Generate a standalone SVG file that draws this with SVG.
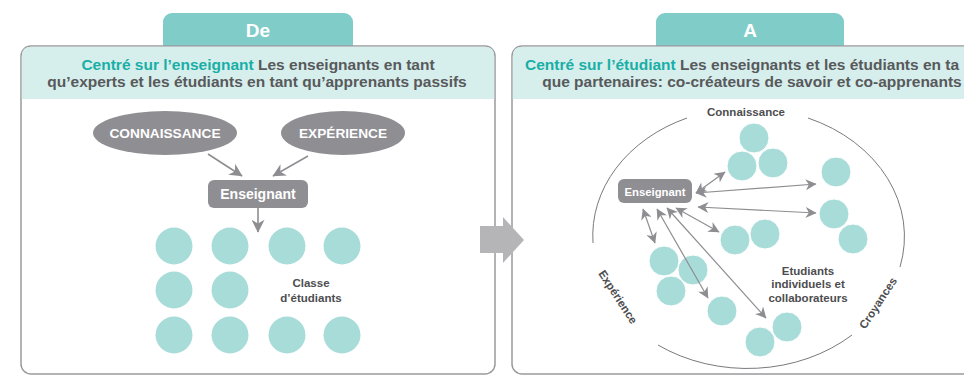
<svg xmlns="http://www.w3.org/2000/svg" width="964" height="375" viewBox="0 0 964 375">
<style>
text{font-family:"Liberation Sans",Arial,sans-serif;font-weight:bold}
.tab{fill:#80CCC8}
.tabt{fill:#fff;font-size:19px;text-anchor:middle}
.panel{fill:#fff;stroke:#9B9B9E;stroke-width:1.5}
.band{fill:#D6EEEC}
.hd{font-size:15.5px;fill:#58595B;text-anchor:middle}
.hl{fill:#19AFA6}
.oval{fill:#8F8E93}
.box{fill:#8F8E93}
.wt{fill:#fff;text-anchor:middle}
.lbl{fill:#4D4D4F;text-anchor:middle;font-size:11.5px}
.stu{fill:#A8DCD9}
.stu2{fill:#A8DCD9;stroke:#fff;stroke-width:1}
.conn{fill:none;stroke:#8E8E92;stroke-width:1.2}
.conn2{fill:none;stroke:#8E8E92;stroke-width:1.6}
.arc{fill:none;stroke:#7A7A7D;stroke-width:1}
</style>
<defs>
<marker id="ah" viewBox="0 0 10 10" refX="9.5" refY="5" markerUnits="userSpaceOnUse" markerWidth="12" markerHeight="11" orient="auto-start-reverse">
<path d="M0,0 L10,5 L0,10 L3,5 Z" fill="#8E8E92"/>
</marker>
<marker id="ahL" viewBox="0 0 10 10" refX="9.5" refY="5" markerUnits="userSpaceOnUse" markerWidth="14" markerHeight="13" orient="auto">
<path d="M0,0 L10,5 L0,10 L3,5 Z" fill="#8E8E92"/>
</marker>
</defs>

<!-- Left panel -->
<g id="tab-de">
<rect class="tab" x="163" y="13" width="190" height="44" rx="9"/>
<text class="tabt" x="258" y="37">De</text>
</g>
<g id="panel-de">
<rect class="panel" x="21" y="46" width="474" height="328" rx="10"/>
<path class="band" d="M21.8,99 V56 Q21.8,46.8 31,46.8 H485 Q494.2,46.8 494.2,56 V99 Z"/>
<text class="hd" x="258" y="70"><tspan class="hl">Centré sur l’enseignant</tspan> Les enseignants en tant</text>
<text class="hd" x="257" y="87">qu’experts et les étudiants en tant qu’apprenants passifs</text>
</g>

<!-- Right panel -->
<g id="tab-a">
<rect class="tab" x="656" y="13" width="188" height="44" rx="9"/>
<text class="tabt" x="750" y="37">A</text>
</g>
<g id="panel-a">
<rect class="panel" x="512" y="46" width="480" height="328" rx="10"/>
<path class="band" d="M512.8,99 V56 Q512.8,46.8 522,46.8 H990 V99 Z"/>
<text class="hd" x="525" y="70" text-anchor="start" style="text-anchor:start"><tspan class="hl">Centré sur l’étudiant</tspan> Les enseignants et les étudiants en ta</text>
<text class="hd" x="752" y="87">que partenaires: co-créateurs de savoir et co-apprenants</text>
</g>

<!-- Left diagram nodes -->
<g id="connaissance-left">
<ellipse class="oval" cx="165" cy="133" rx="72" ry="22"/>
<text class="wt" x="165" y="138" font-size="13.7">CONNAISSANCE</text>
</g>
<g id="experience-left">
<ellipse class="oval" cx="343" cy="133" rx="62" ry="22"/>
<text class="wt" x="343" y="138" font-size="13.7">EXPÉRIENCE</text>
</g>
<g id="enseignant-left">
<rect class="box" x="208" y="180" width="100" height="28" rx="6"/>
<text class="wt" x="258" y="199" font-size="14">Enseignant</text>
</g>
<g id="classe">
<circle class="stu" cx="174" cy="246" r="18.5"/>
<circle class="stu" cx="230" cy="246" r="18.5"/>
<circle class="stu" cx="287" cy="246" r="18.5"/>
<circle class="stu" cx="342" cy="246" r="18.5"/>
<circle class="stu" cx="174" cy="290" r="18.5"/>
<circle class="stu" cx="230" cy="290" r="18.5"/>
<circle class="stu" cx="174" cy="335" r="18.5"/>
<circle class="stu" cx="230" cy="335" r="18.5"/>
<circle class="stu" cx="287" cy="335" r="18.5"/>
<circle class="stu" cx="342" cy="335" r="18.5"/>
<text class="lbl" x="311" y="287">Classe</text>
<text class="lbl" x="311" y="302">d’étudiants</text>
</g>

<!-- Transition arrow -->
<g id="transition">
<polygon points="480,226 503,226 503,217 524,240 503,263 503,253 480,253" fill="#B5B5B8"/>
</g>

<!-- Right diagram -->
<g id="cercle">
<path class="arc" d="M687,118 A155,128 0 0 0 593,243"/>
<path class="arc" d="M658,345 A155,128 0 0 0 852,335"/>
<path class="arc" d="M900,267 A155,128 0 0 0 808,118"/>
<text class="lbl" x="746" y="116" font-size="11.5">Connaissance</text>
<text class="lbl" transform="translate(618,297) rotate(57)" x="0" y="4">Expérience</text>
<text class="lbl" transform="translate(878,303) rotate(-57)" x="0" y="4">Croyances</text>
</g>
<g id="enseignant-right">
<rect class="box" x="618" y="179" width="74" height="24" rx="6"/>
<text class="wt" x="655" y="196" font-size="11.3">Enseignant</text>
</g>
<g id="etudiants">
<circle class="stu2" cx="754" cy="138" r="15"/>
<circle class="stu2" cx="742" cy="166" r="15"/>
<circle class="stu2" cx="773" cy="163" r="15"/>
<circle class="stu2" cx="836" cy="172" r="15"/>
<circle class="stu2" cx="834" cy="214" r="15"/>
<circle class="stu2" cx="853" cy="239" r="15"/>
<circle class="stu2" cx="735" cy="240" r="15"/>
<circle class="stu2" cx="765" cy="234" r="15"/>
<circle class="stu2" cx="664" cy="261" r="15"/>
<circle class="stu2" cx="693" cy="270" r="15"/>
<circle class="stu2" cx="671" cy="291" r="15"/>
<circle class="stu2" cx="722" cy="311" r="15"/>
<circle class="stu2" cx="787" cy="327" r="15"/>
<circle class="stu2" cx="760" cy="342" r="15"/>
<text class="lbl" x="808" y="275">Etudiants</text>
<text class="lbl" x="808" y="288">individuels et</text>
<text class="lbl" x="808" y="302">collaborateurs</text>
</g>

<!-- Connectors -->
<g id="connectors">
<line class="conn2" x1="208" y1="154" x2="242" y2="176" marker-end="url(#ahL)"/>
<line class="conn2" x1="308" y1="156" x2="273" y2="176" marker-end="url(#ahL)"/>
<line class="conn2" x1="258" y1="208" x2="258" y2="232" marker-end="url(#ahL)"/>
<line class="conn" x1="696" y1="193" x2="725" y2="172" marker-start="url(#ah)" marker-end="url(#ah)"/>
<line class="conn" x1="696" y1="193" x2="816" y2="184" marker-start="url(#ah)" marker-end="url(#ah)"/>
<line class="conn" x1="698" y1="207" x2="816" y2="213" marker-start="url(#ah)" marker-end="url(#ah)"/>
<line class="conn" x1="676" y1="208" x2="719" y2="232" marker-start="url(#ah)" marker-end="url(#ah)"/>
<line class="conn" x1="643" y1="209" x2="655" y2="243" marker-start="url(#ah)" marker-end="url(#ah)"/>
<line class="conn" x1="657" y1="209" x2="708" y2="298" marker-start="url(#ah)" marker-end="url(#ah)"/>
<line class="conn" x1="667" y1="208" x2="766" y2="318" marker-start="url(#ah)" marker-end="url(#ah)"/>
</g>
</svg>
